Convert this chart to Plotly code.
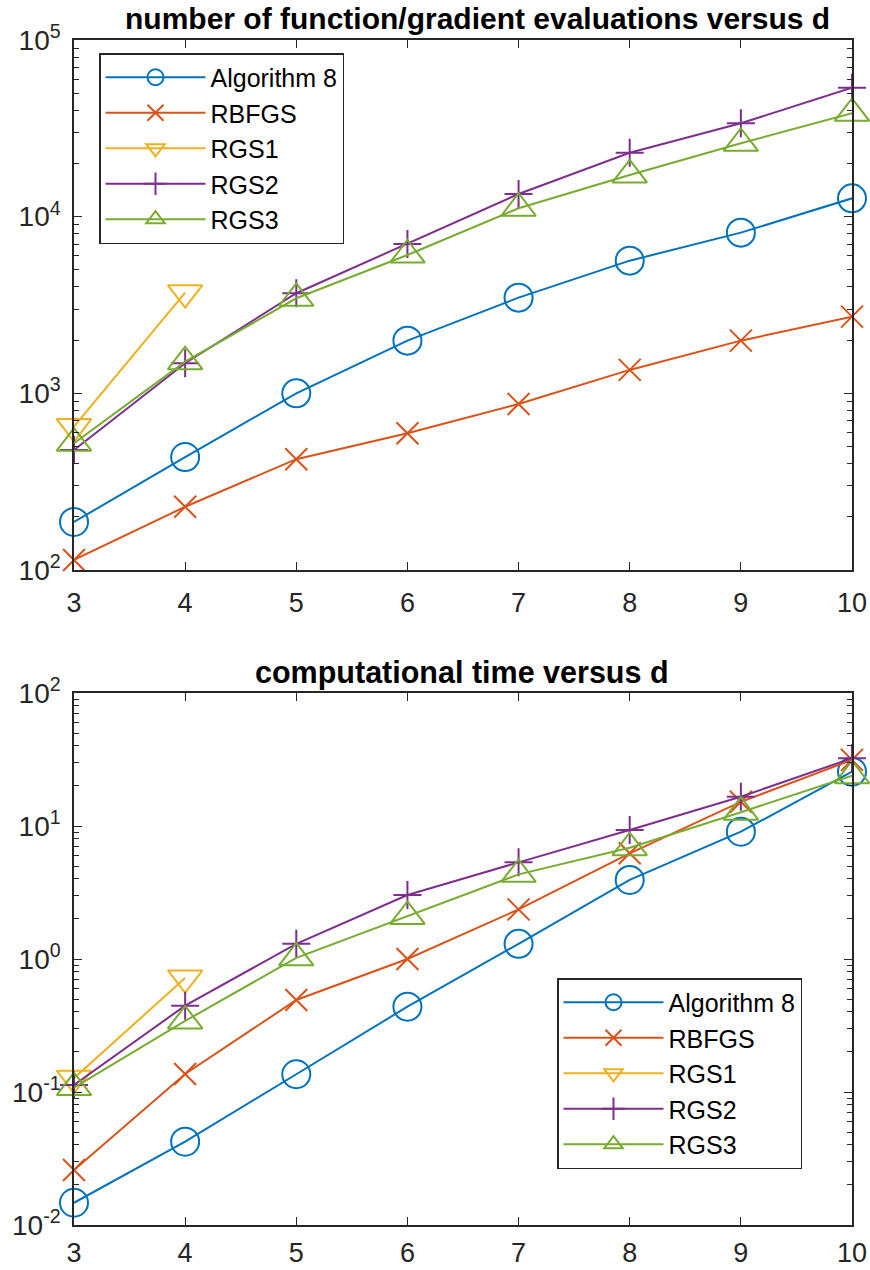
import plotly.graph_objects as go

d = [3, 4, 5, 6, 7, 8, 9, 10]
d_rgs1 = [3, 4]

evals_alg8 = [187, 436, 1000, 1987, 3480, 5636, 8120, 12700]
evals_rbfgs = [114, 228, 424, 594, 871, 1357, 1987, 2717]
evals_rgs1 = [648, 3715]
evals_rgs2 = [478, 1480, 3686, 7006, 13440, 23020, 33780, 53700]
evals_rgs3 = [522, 1511, 3452, 6069, 11160, 17220, 26030, 38470]

time_alg8 = [0.0147, 0.0423, 0.136, 0.438, 1.30, 3.93, 9.06, 25.6]
time_rbfgs = [0.0259, 0.1365, 0.492, 1.00, 2.36, 6.23, 15.2, 31.4]
time_rgs1 = [0.127, 0.72]
time_rgs2 = [0.113, 0.446, 1.30, 3.03, 5.33, 9.33, 16.6, 32.3]
time_rgs3 = [0.108, 0.342, 1.02, 2.09, 4.33, 6.87, 12.7, 23.9]

names = ["Algorithm 8", "RBFGS", "RGS1", "RGS2", "RGS3"]
colors = ["#0072BD", "#D95319", "#EDB120", "#7E2F8E", "#77AC30"]
symbols = ["circle-open", "x-thin-open", "triangle-down-open", "cross-thin-open", "triangle-up-open"]
sizes = [28, 22, 30, 20, 30]

x_ticks = [3, 4, 5, 6, 7, 8, 9, 10]
top_exps = [2, 3, 4, 5]
bot_exps = [-2, -1, 0, 1, 2]

FONT = "Liberation Sans, Arial, sans-serif"
AX = "#262626"

fig = go.Figure()

top_series = [(d, evals_alg8), (d, evals_rbfgs), (d_rgs1, evals_rgs1), (d, evals_rgs2), (d, evals_rgs3)]
bot_series = [(d, time_alg8), (d, time_rbfgs), (d_rgs1, time_rgs1), (d, time_rgs2), (d, time_rgs3)]

for i, (xs, ys) in enumerate(top_series):
    fig.add_trace(go.Scatter(
        x=xs, y=ys, name=names[i], mode="lines+markers",
        line=dict(color=colors[i], width=2),
        marker=dict(symbol=symbols[i], size=sizes[i], color=colors[i],
                    line=dict(color=colors[i], width=2)),
        xaxis="x", yaxis="y", legend="legend", cliponaxis=False))

for i, (xs, ys) in enumerate(bot_series):
    fig.add_trace(go.Scatter(
        x=xs, y=ys, name=names[i], mode="lines+markers",
        line=dict(color=colors[i], width=2),
        marker=dict(symbol=symbols[i], size=sizes[i], color=colors[i],
                    line=dict(color=colors[i], width=2)),
        xaxis="x2", yaxis="y2", legend="legend2", cliponaxis=False))


def minor_vals(exps):
    vals = []
    for e in exps[:-1]:
        for m in range(2, 10):
            vals.append(m * 10 ** e)
    return vals


def xaxis_common(standoff):
    return dict(
        range=[3, 10], tickvals=x_ticks, ticktext=[str(v) for v in x_ticks],
        ticks="inside", ticklen=8, tickwidth=1.2, tickcolor=AX,
        showline=True, linecolor=AX, linewidth=1.5, mirror="allticks",
        showgrid=False, zeroline=False, automargin=False,
        tickfont=dict(family=FONT, size=27, color=AX), ticklabelstandoff=standoff,
    )

def yaxis_common(exps):
    return dict(
        type="log", range=[exps[0], exps[-1]],
        tickvals=[10 ** e for e in exps],
        ticktext=["10<sup>%d</sup>" % e for e in exps],
        ticks="inside", ticklen=8, tickwidth=1.2, tickcolor=AX,
        minor=dict(tickvals=minor_vals(exps), ticks="inside", ticklen=5,
                   tickwidth=1.2, tickcolor=AX, showgrid=False),
        showline=True, linecolor=AX, linewidth=1.5, mirror="allticks",
        showgrid=False, zeroline=False, automargin=False,
        tickfont=dict(family=FONT, size=28, color=AX), ticklabelstandoff=6,
    )

W = 870.0
H = 1270.0
xdom = [74 / W, 852 / W]

legend_common = dict(
    bgcolor="white", bordercolor=AX, borderwidth=1.5,
    font=dict(family=FONT, size=25, color="#000000"),
    itemwidth=100, xanchor="left", yanchor="top", tracegroupgap=0,
)

fig.update_layout(
    width=int(W), height=int(H),
    margin=dict(l=0, r=0, t=0, b=0),
    paper_bgcolor="white", plot_bgcolor="white",
    font=dict(family=FONT),
    xaxis=dict(domain=xdom, anchor="y", **xaxis_common(8)),
    yaxis=dict(domain=[1 - 570 / H, 1 - 40 / H], anchor="x", **yaxis_common(top_exps)),
    xaxis2=dict(domain=xdom, anchor="y2", **xaxis_common(3)),
    yaxis2=dict(domain=[1 - 1225 / H, 1 - 693 / H], anchor="x2", **yaxis_common(bot_exps)),
    legend=dict(x=99 / W, y=1 - 53 / H, **legend_common),
    legend2=dict(x=557 / W, y=1 - 978 / H, **legend_common),
    showlegend=True,
    annotations=[
        dict(text="<b>number of function/gradient evaluations versus d</b>",
             x=477 / W, y=1 - 19 / H, xref="paper", yref="paper",
             xanchor="center", yanchor="middle", showarrow=False,
             font=dict(family=FONT, size=30, color="#000000")),
        dict(text="<b>computational time versus d</b>",
             x=462 / W, y=1 - 672 / H, xref="paper", yref="paper",
             xanchor="center", yanchor="middle", showarrow=False,
             font=dict(family=FONT, size=30.5, color="#000000")),
    ],
)

# remove the default page margin and scrollbars so the 870x1270 figure fills the window
page_css = ("document.documentElement.style.overflow='hidden';"
            "document.body.style.margin='0';"
            "document.body.style.overflow='hidden';")

fig.write_html("out.html", post_script=page_css, config={"displayModeBar": False})
